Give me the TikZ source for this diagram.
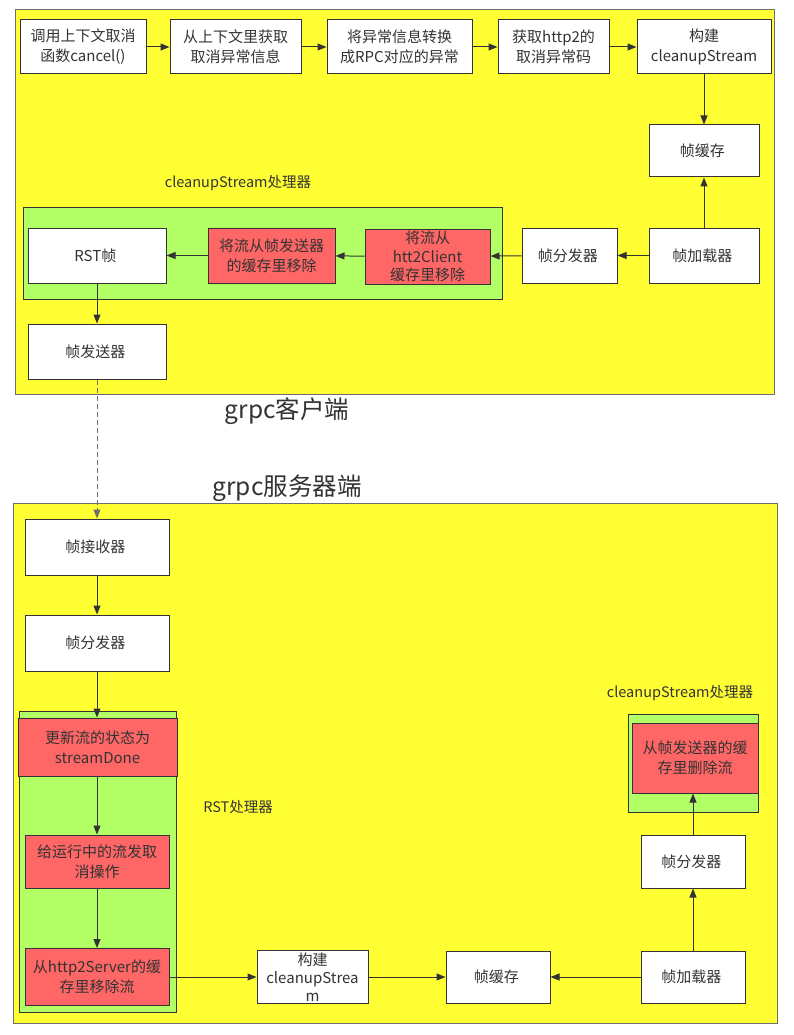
\documentclass[tikz,border=0pt]{standalone}
\usepackage{fontspec}
\setmainfont{Noto Sans CJK SC}
\usetikzlibrary{arrows.meta}

\definecolor{panelyellow}{RGB}{255,255,51}
\definecolor{groupgreen}{RGB}{178,255,102}
\definecolor{stepred}{RGB}{255,102,102}
\definecolor{edgegray}{RGB}{51,51,51}
\definecolor{framegray}{RGB}{110,110,110}

\tikzset{
    panel/.style={draw=framegray, fill=panelyellow, line width=1pt},
    group/.style={draw=edgegray, fill=groupgreen, line width=1pt},
    block/.style={draw=edgegray, fill=white, line width=1pt, inner sep=0pt, align=center,
        text=edgegray, font=\fontsize{15}{20}\selectfont},
    redblock/.style={block, fill=stepred},
    caption/.style={text=edgegray, font=\fontsize{14.5}{18}\selectfont},
    title/.style={text=edgegray, font=\fontsize{24.5}{28}\selectfont},
    flow/.style={draw=edgegray, line width=1pt, -{Triangle[length=9pt,width=7pt]}}
}

\begin{document}
\begin{tikzpicture}[x=1pt, y=-1pt]
        \fill[white] (0, 0) rectangle (793, 1035);
        \useasboundingbox (0, 0) rectangle (793, 1035);

        % grpc client
        \draw[panel] (15, 10) rectangle (774, 394);
        \draw[group] (23, 207) rectangle (502, 299);

        \node[block, minimum width=126, minimum height=54] (call) at (83, 47) { 调用上下文取消\\函数cancel() };
        \node[block, minimum width=131, minimum height=54] (fetch) at (235.5, 47) { 从上下文里获取\\取消异常信息 };
        \node[block, minimum width=145, minimum height=54] (convert) at (399.5, 47) { 将异常信息转换\\成RPC对应的异常 };
        \node[block, minimum width=111, minimum height=54] (code) at (553.5, 47) { 获取http2的\\取消异常码 };
        \node[block, minimum width=134, minimum height=54] (build) at (704, 47) { 构建\\cleanupStream };
        \node[block, minimum width=110, minimum height=52] (cbuf) at (704, 151) { 帧缓存 };
        \node[block, minimum width=110, minimum height=55] (cload) at (704, 255.5) { 帧加载器 };
        \node[block, minimum width=95, minimum height=55] (cdisp) at (569.5, 255.5) { 帧分发器 };
        \node[redblock, minimum width=125, minimum height=55, font=\fontsize{15}{18.5}\selectfont] (dropclient) at (427.5, 256.5) { 将流从\\htt2Client\\缓存里移除 };
        \node[redblock, minimum width=127, minimum height=55] (dropsend) at (271.5, 255.5) { 将流从帧发送器\\的缓存里移除 };
        \node[block, minimum width=138, minimum height=55] (rst) at (97, 255.5) { RST帧 };
        \node[block, minimum width=138, minimum height=55] (sender) at (97, 351.5) { 帧发送器 };
        \node[caption] (cgroup) at (238, 183) { cleanupStream处理器 };

        \draw[flow] (call) -- (fetch);
        \draw[flow] (fetch) -- (convert);
        \draw[flow] (convert) -- (code);
        \draw[flow] (code) -- (build);
        \draw[flow] (build) -- (cbuf);
        \draw[flow] (cload) -- (cbuf);
        \draw[flow] (cload) -- (cdisp);
        \draw[flow] (cdisp) -- (dropclient);
        \draw[flow] (dropclient) -- (dropsend);
        \draw[flow] (dropsend) -- (rst);
        \draw[flow] (rst) -- (sender);

        \node[title] (client) at (287, 411) { grpc客户端 };
        \node[title] (server) at (287, 488) { grpc服务器端 };

        % grpc server
        \draw[panel] (13, 503) rectangle (777, 1023);
        \draw[group] (19, 711) rectangle (176, 1012);
        \draw[group] (628, 714) rectangle (758, 812);

        \node[block, minimum width=144, minimum height=56] (recv) at (97, 547) { 帧接收器 };
        \node[block, minimum width=144, minimum height=56] (sdisp) at (97, 643) { 帧分发器 };
        \node[redblock, minimum width=159, minimum height=58] (done) at (97.5, 747) { 更新流的状态为\\streamDone };
        \node[redblock, minimum width=144, minimum height=53] (cancel) at (97, 861.5) { 给运行中的流发取\\消操作 };
        \node[redblock, minimum width=144, minimum height=57] (dropserver) at (97, 977) { 从http2Server的缓\\存里移除流 };
        \node[block, minimum width=111, minimum height=53, font=\fontsize{15}{18}\selectfont] (sbuild) at (312.5, 977) { 构建\\cleanupStrea\\m };
        \node[block, minimum width=104, minimum height=52] (sbuf) at (498, 977) { 帧缓存 };
        \node[block, minimum width=104, minimum height=52] (sload) at (693, 977) { 帧加载器 };
        \node[block, minimum width=104, minimum height=53] (sdisp2) at (693, 861.5) { 帧分发器 };
        \node[redblock, minimum width=126, minimum height=70] (dropsend2) at (695, 758) { 从帧发送器的缓\\存里删除流 };
        \node[caption] (rstgroup) at (238, 807) { RST处理器 };
        \node[caption] (sgroup) at (680, 693) { cleanupStream处理器 };

        \draw[flow, draw=framegray, dash pattern=on 5pt off 3pt] (sender) -- (recv);
        \draw[flow] (recv) -- (sdisp);
        \draw[flow] (sdisp.south) -- (sdisp.south |- done.north);
        \draw[flow] (done.south -| cancel.north) -- (cancel.north);
        \draw[flow] (cancel) -- (dropserver);
        \draw[flow] (dropserver) -- (sbuild);
        \draw[flow] (sbuild) -- (sbuf);
        \draw[flow] (sload) -- (sbuf);
        \draw[flow] (sload) -- (sdisp2);
        \draw[flow] (sdisp2.north) -- (sdisp2.north |- dropsend2.south);
    \end{tikzpicture}
\end{document}
